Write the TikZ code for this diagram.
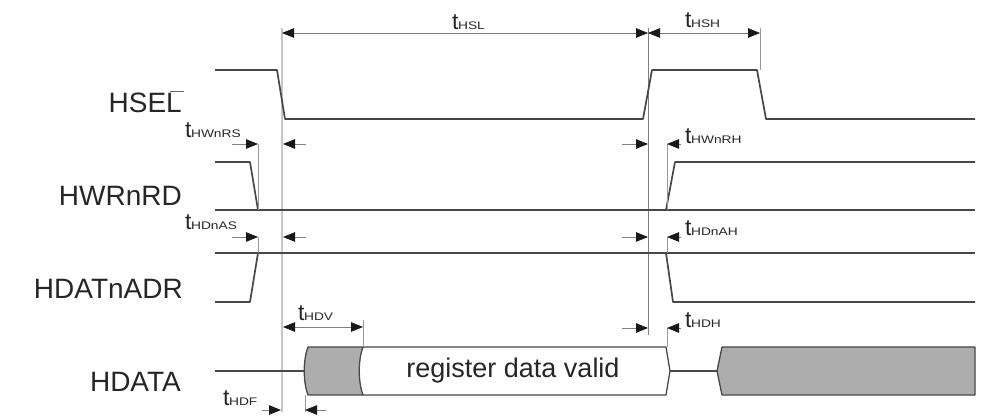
\documentclass[tikz,border=0pt]{standalone}
\usepackage{fontspec}
\setmainfont{Liberation Sans}
\usetikzlibrary{arrows.meta}
\newcommand{\tlab}[1]{{\fontsize{23}{23}\selectfont t}\kern-0.5pt{\fontsize{11}{11}\selectfont\scalebox{1.25}[1]{#1}}}
\begin{document}
\begin{tikzpicture}[x=1pt,y=-1pt,
  wave/.style={draw=black!72, line width=1.7pt, line join=round},
  boxline/.style={draw=black!72, line width=1.3pt, line join=round},
  ext/.style={draw=black!40, line width=0.8pt},
  refline/.style={draw=black!22, line width=2.8pt},
  midline/.style={draw=black!50, line width=0.9pt},
  tip/.style={-{Triangle[length=12pt,width=9.5pt,color=black!90]}},
  tips/.style={{Triangle[length=12pt,width=9.5pt,color=black!90]}-{Triangle[length=12pt,width=9.5pt,color=black!90]}},
  dimline/.style={draw=black!50, line width=0.8pt},
  siglabel/.style={inner sep=0pt, anchor=base east, font=\fontsize{28}{30}\selectfont, text=black!85},
  tlabel/.style={inner sep=0pt, anchor=base west, text=black!85}
]
\useasboundingbox (0,0) rectangle (983,419);

% reference lines
\draw[refline] (282,28) -- (282,412);
\draw[midline] (648,28) -- (648,335);
\draw[ext] (760,28) -- (760,70);

% signal labels
\node[siglabel] (lhsel) at (182,113) {HSEL};
\draw[black!60, line width=1pt] (170,92) -- (184,92);
\node[siglabel] (lhwr) at (182,206) {HWRnRD};
\node[siglabel] (lhdat) at (183,299) {HDATnADR};
\node[siglabel] (lhdata) at (181,392) {HDATA};

% HSEL
\draw[wave] (215,70) -- (277,70) -- (285,119) -- (643,119) -- (652,70) -- (757,70) -- (766,119) -- (975,119);
% HWRnRD
\draw[wave] (215,162) -- (250,162) -- (258,210);
\draw[wave] (215,210) -- (975,210);
\draw[wave] (666,210) -- (675,162) -- (975,162);
% HDATnADR
\draw[wave] (215,253) -- (975,253);
\draw[wave] (215,302) -- (250,302) -- (258,253);
\draw[wave] (666,253) -- (673,302) -- (975,302);
% HDATA
\draw[wave] (215,371) -- (305,371);
\filldraw[boxline, fill=black!32] (308,347) -- (363,347) .. controls (358,360) and (358,382) .. (363,395) -- (308,395) .. controls (303,382) and (303,360) .. cycle;
\draw[boxline] (363,347) -- (666,347) -- (670,371) -- (666,395) -- (363,395);
\node[inner sep=0pt, font=\fontsize{27}{29}\selectfont, text=black!85] (valid) at (513,371) {register data valid};
\draw[wave] (670,371) -- (717,371);
\filldraw[boxline, fill=black!32] (722,347) -- (975,347) -- (975,395) -- (722,395) -- (717,371) -- cycle;

% extension lines
\draw[ext] (258,144) -- (258,210);
\draw[ext] (258,237) -- (258,253);
\draw[ext] (667,144) -- (667,210);
\draw[ext] (667,237) -- (667,253);
\draw[ext] (667,328) -- (667,347);
\draw[ext] (363,320) -- (363,347);
\draw[ext] (305,395) -- (305,412);

% dimension arrows
\draw[dimline, tips] (282,33) -- (648,33);
\draw[dimline, tips] (648,33) -- (760,33);
\draw[dimline, tip] (232,144) -- (258,144);
\draw[dimline, tip] (306,144) -- (283,144);
\draw[dimline, tip] (232,237) -- (258,237);
\draw[dimline, tip] (306,237) -- (283,237);
\draw[dimline, tip] (622,144) -- (648,144);
\draw[dimline, tip] (681,144) -- (667,144);
\draw[dimline, tip] (622,237) -- (648,237);
\draw[dimline, tip] (681,237) -- (667,237);
\draw[dimline, tip] (622,328) -- (648,328);
\draw[dimline, tip] (681,328) -- (667,328);
\draw[dimline, tips] (283,327) -- (363,327);
\draw[dimline, tip] (262,410) -- (281,410);
\draw[dimline, tip] (326,410) -- (305,410);

% timing labels
\node[tlabel] (thsl) at (452,30) {\tlab{HSL}};
\node[tlabel] (thsh) at (685,28) {\tlab{HSH}};
\node[tlabel] (thwnrs) at (185,138) {\tlab{HWnRS}};
\node[tlabel] (thdnas) at (185,230) {\tlab{HDnAS}};
\node[tlabel] (thwnrh) at (685,144) {\tlab{HWnRH}};
\node[tlabel] (thdnah) at (685,236) {\tlab{HDnAH}};
\node[tlabel] (thdh) at (685,328) {\tlab{HDH}};
\node[tlabel] (thdv) at (298,321) {\tlab{HDV}};
\node[tlabel] (thdf) at (223,406) {\tlab{HDF}};
\end{tikzpicture}
\end{document}
